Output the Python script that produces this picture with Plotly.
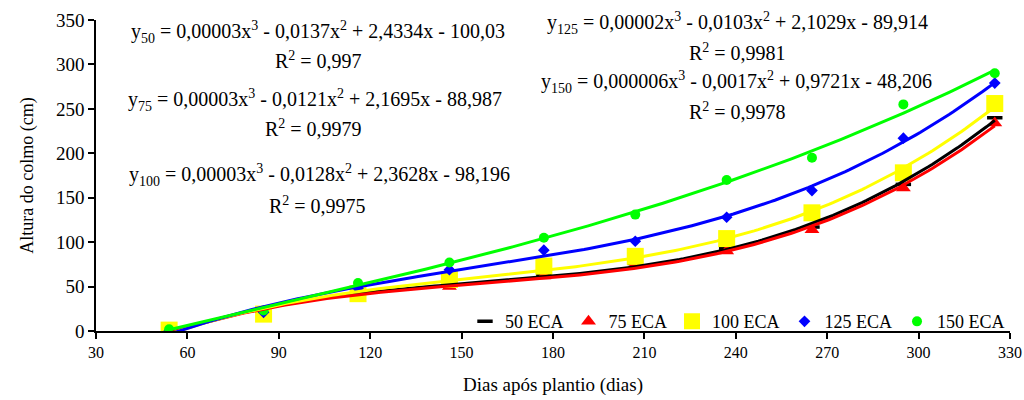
import numpy as np
import plotly.graph_objects as go

days = [54, 85, 116, 146, 177, 207, 237, 265, 295, 325]
eca50 = [0, 22, 40, 52, 63, 76, 93, 117, 165, 240]
eca75 = [0, 22, 38, 50, 62, 75, 90, 114, 161, 234]
eca100 = [1, 19, 42, 58, 73, 84, 104, 133, 178, 256]
eca125 = [0, 21, 48, 69, 91, 101, 128, 158, 217, 279]
eca150 = [2, 23, 54, 77, 105, 131, 170, 195, 255, 290]

names = ["50 ECA", "75 ECA", "100 ECA", "125 ECA", "150 ECA"]
series = [eca50, eca75, eca100, eca125, eca150]
colors = ["#000000", "#FF0000", "#FFFF00", "#0000FF", "#00FF00"]
symbols = ["line-ew", "triangle-up", "square", "diamond", "circle"]
sizes = [11, 13, 17, 9, 10]

FONT = "Liberation Serif"
BLACK = "#000000"
fig = go.Figure()

for n, s, c, sym, sz in zip(names, series, colors, symbols, sizes):
    mk = dict(symbol=sym, size=sz, color=c)
    if sym == "line-ew":
        mk.update(line=dict(color=c, width=3.5))
    else:
        mk.update(line=dict(width=0))
    fig.add_trace(go.Scatter(x=days, y=s, mode="markers", name=n, marker=mk))

xs = np.linspace(min(days), max(days), 200)
for n, s, c in zip(names, series, colors):
    coef = np.polyfit(days, s, 3)
    fig.add_trace(go.Scatter(x=xs.tolist(), y=np.polyval(coef, xs).tolist(), mode="lines",
                             line=dict(color=c, width=3), showlegend=False,
                             hoverinfo="skip"))

L, R, T, B = 96, 14, 20, 69
W, H = 1024, 400
pw, ph = W - L - R, H - T - B

eqs = [
    ("y<sub>50</sub> = 0,00003x<sup>3</sup> - 0,0137x<sup>2</sup> + 2,4334x - 100,03", 318, 32),
    ("R<sup>2</sup> = 0,997", 318, 60),
    ("y<sub>75</sub> = 0,00003x<sup>3</sup> - 0,0121x<sup>2</sup> + 2,1695x - 88,987", 315, 100),
    ("R<sup>2</sup> = 0,9979", 313, 128),
    ("y<sub>100</sub> = 0,00003x<sup>3</sup> - 0,0128x<sup>2</sup> + 2,3628x - 98,196", 319, 175),
    ("R<sup>2</sup> = 0,9975", 317, 205),
    ("y<sub>125</sub> = 0,00002x<sup>3</sup> - 0,0103x<sup>2</sup> + 2,1029x - 89,914", 737, 23),
    ("R<sup>2</sup> = 0,9981", 737, 52),
    ("y<sub>150</sub> = 0,000006x<sup>3</sup> - 0,0017x<sup>2</sup> + 0,9721x - 48,206", 736, 82),
    ("R<sup>2</sup> = 0,9978", 737, 111),
]
for t, px, py in eqs:
    fig.add_annotation(text=t, x=(px - L) / pw, y=(H - B - py) / ph,
                       xref="paper", yref="paper",
                       showarrow=False, xanchor="center", yanchor="middle",
                       font=dict(family=FONT, size=20, color=BLACK))

fig.update_layout(
    width=W, height=H,
    margin=dict(l=L, r=R, t=T, b=B),
    plot_bgcolor="white", paper_bgcolor="white",
    font=dict(family=FONT, size=18, color=BLACK),
    showlegend=True,
    legend=dict(orientation="h", x=1.0, xanchor="right", y=0.03, yanchor="middle",
                bgcolor="rgba(0,0,0,0)", font=dict(family=FONT, size=18, color=BLACK)),
    xaxis=dict(range=[30, 330], tickvals=list(range(30, 331, 30)), automargin=False,
               tickfont=dict(family=FONT, size=16, color=BLACK),
               showline=True, linecolor="black", linewidth=1.5, ticks="outside",
               ticklen=6, tickcolor="black", tickwidth=1.5, showgrid=False, zeroline=False,
               title=dict(text="Dias após plantio (dias)",
                          font=dict(family=FONT, size=19, color=BLACK), standoff=18)),
    yaxis=dict(range=[0, 350], tickvals=list(range(0, 351, 50)), automargin=False,
               tickfont=dict(family=FONT, size=19, color=BLACK),
               showline=True, linecolor="black", linewidth=1.5, ticks="outside",
               ticklen=6, tickcolor="black", tickwidth=1.5, showgrid=False, zeroline=False,
               title=dict(text="Altura do colmo (cm)",
                          font=dict(family=FONT, size=18, color=BLACK), standoff=18)),
)

fig.write_html("out.html")
